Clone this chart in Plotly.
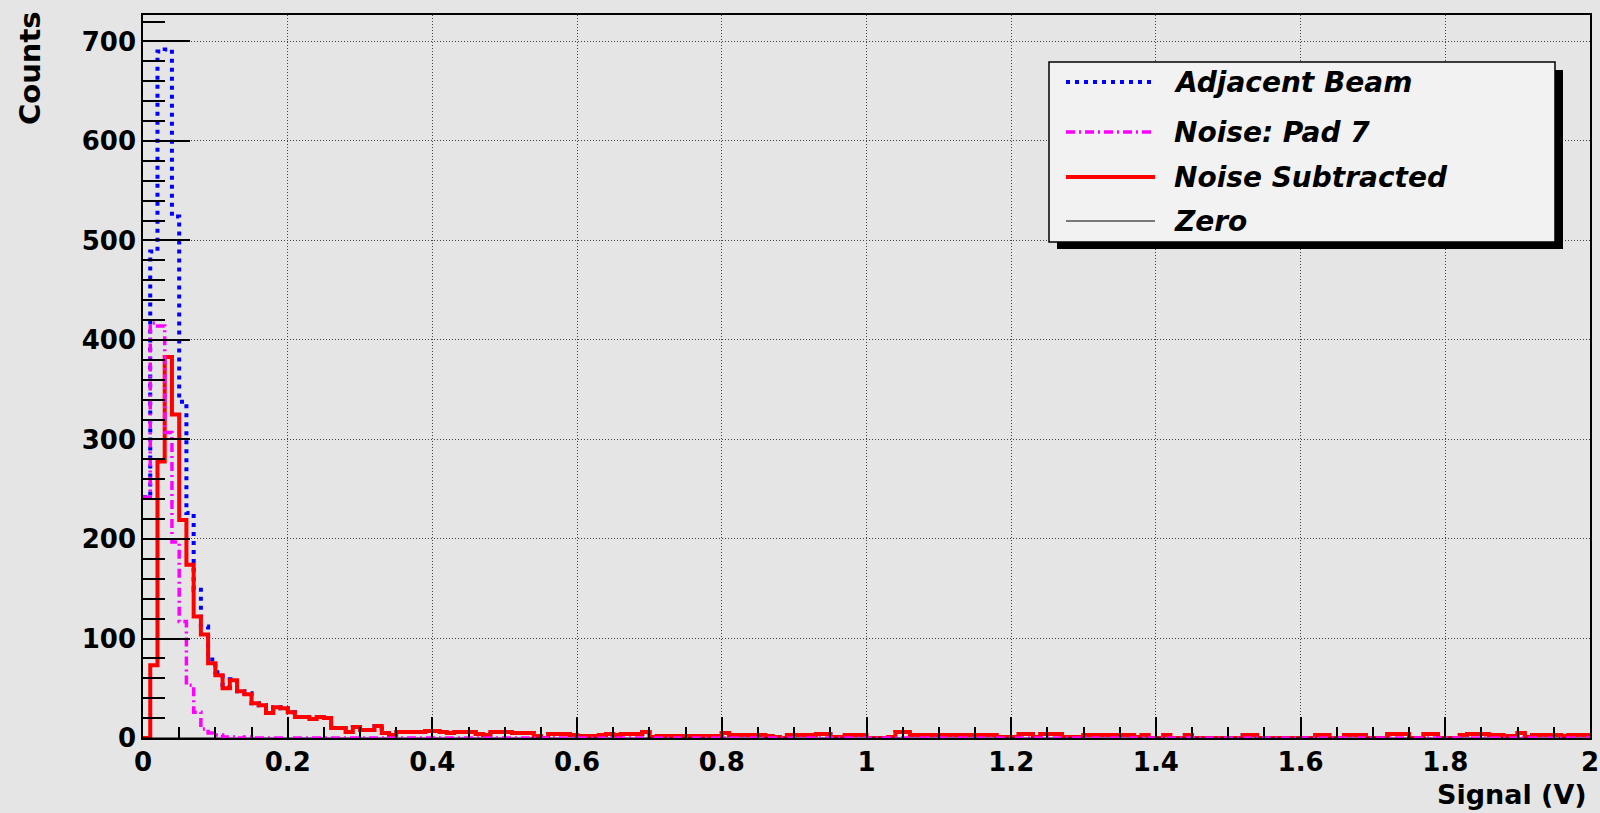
import plotly.graph_objects as go

# ---------------- data (histogram bin contents, 200 bins of 0.01 V from 0 to 2 V) ----------------
bin_low = 0.0
bin_high = 2.0
n_bins = 200

adjacent_beam = [
    242, 489, 690, 692, 524, 338, 226, 149, 112, 79,
    66, 51, 59, 47, 45, 35, 33, 25, 31, 30,
    26, 21, 21, 19, 21, 20, 10, 10, 6, 11,
    8, 8, 12, 5, 3, 6, 6, 6, 6, 7,
    7, 6, 5, 6, 6, 6, 4, 3, 6, 6,
    6, 5, 5, 5, 2, 0, 4, 4, 4, 3,
    2, 2, 2, 3, 4, 3, 4, 4, 4, 6,
    1, 2, 2, 2, 2, 2, 2, 2, 2, 2,
    5, 3, 3, 3, 3, 3, 2, 1, 0, 3,
    3, 3, 3, 4, 4, 1, 1, 3, 3, 3,
    0, 0, 0, 1, 6, 6, 3, 3, 3, 3,
    3, 3, 3, 3, 3, 3, 3, 3, 1, 1,
    1, 4, 4, 1, 4, 4, 4, 1, 1, 1,
    3, 3, 3, 3, 3, 3, 3, 1, 3, 0,
    0, 3, 0, 0, 3, 0, 0, 0, 0, 0,
    0, 0, 3, 3, 0, 0, 0, 0, 0, 0,
    0, 0, 3, 3, 0, 0, 3, 3, 3, 0,
    0, 0, 4, 4, 4, 0, 0, 4, 4, 0,
    0, 0, 3, 4, 4, 4, 3, 3, 2, 2,
    5, 1, 3, 3, 3, 3, 2, 3, 3, 3,
]

noise_pad7 = [
    242, 417, 414, 307, 197, 117, 53, 26, 9, 5,
    3, 1, 1, 0, 1, 0, 0, 0, 0, 0,
    0, 0, 0, 0, 0, 0, 0, 0, 0, 0,
    0, 0, 0, 0, 0, 0, 0, 0, 0, 0,
    0, 0, 0, 0, 0, 0, 0, 0, 0, 0,
    0, 0, 0, 0, 0, 0, 0, 0, 0, 0,
    0, 0, 0, 0, 0, 0, 0, 0, 0, 0,
    0, 0, 0, 0, 0, 0, 0, 0, 0, 0,
    0, 0, 0, 0, 0, 0, 0, 0, 0, 0,
    0, 0, 0, 0, 0, 0, 0, 0, 0, 0,
    0, 0, 0, 0, 0, 0, 0, 0, 0, 0,
    0, 0, 0, 0, 0, 0, 0, 0, 0, 0,
    0, 0, 0, 0, 0, 0, 0, 0, 0, 0,
    0, 0, 0, 0, 0, 0, 0, 0, 0, 0,
    0, 0, 0, 0, 0, 0, 0, 0, 0, 0,
    0, 0, 0, 0, 0, 0, 0, 0, 0, 0,
    0, 0, 0, 0, 0, 0, 0, 0, 0, 0,
    0, 0, 0, 0, 0, 0, 0, 0, 0, 0,
    0, 0, 0, 0, 0, 0, 0, 0, 0, 0,
    0, 0, 0, 0, 0, 0, 0, 0, 0, 0,
]

noise_subtracted = [
    0, 73, 278, 383, 325, 219, 174, 122, 104, 75,
    63, 50, 58, 47, 44, 35, 33, 25, 31, 30,
    26, 21, 21, 19, 21, 20, 10, 10, 6, 11,
    8, 8, 12, 5, 3, 6, 6, 6, 6, 7,
    7, 6, 5, 6, 6, 6, 4, 3, 6, 6,
    6, 5, 5, 5, 2, 0, 4, 4, 4, 3,
    2, 2, 2, 3, 4, 3, 4, 4, 4, 6,
    1, 2, 2, 2, 2, 2, 2, 2, 2, 2,
    5, 3, 3, 3, 3, 3, 2, 1, 0, 3,
    3, 3, 3, 4, 4, 1, 1, 3, 3, 3,
    0, 0, 0, 1, 6, 6, 3, 3, 3, 3,
    3, 3, 3, 3, 3, 3, 3, 3, 1, 1,
    1, 4, 4, 1, 4, 4, 4, 1, 1, 1,
    3, 3, 3, 3, 3, 3, 3, 1, 3, 0,
    0, 3, 0, 0, 3, 0, 0, 0, 0, 0,
    0, 0, 3, 3, 0, 0, 0, 0, 0, 0,
    0, 0, 3, 3, 0, 0, 3, 3, 3, 0,
    0, 0, 4, 4, 4, 0, 0, 4, 4, 0,
    0, 0, 3, 4, 4, 4, 3, 3, 2, 2,
    5, 1, 3, 3, 3, 3, 2, 3, 3, 3,
]

zero_level = [0, 0]

x_tick_vals = [0, 0.2, 0.4, 0.6, 0.8, 1.0, 1.2, 1.4, 1.6, 1.8, 2.0]
x_tick_text = ["0", "0.2", "0.4", "0.6", "0.8", "1", "1.2", "1.4", "1.6", "1.8", "2"]
y_tick_vals = [0, 100, 200, 300, 400, 500, 600, 700]
y_tick_text = ["0", "100", "200", "300", "400", "500", "600", "700"]

series_names = ["Adjacent Beam", "Noise: Pad 7", "Noise Subtracted", "Zero"]

# ---------------- figure ----------------
W, H = 1600, 813
ML, MR, MT, MB = 143, 10, 15, 75
PW, PH = W - ML - MR, H - MT - MB

bin_w = (bin_high - bin_low) / n_bins
edges = [bin_low + i * bin_w for i in range(n_bins + 1)]


def step_y(vals):
    return list(vals) + [vals[-1]]


def px(x):
    return (x - ML) / PW


def py(y):
    return (H - MB - y) / PH


FONT = "DejaVu Sans"
BLUE_DASH = "4px,5px"
MAG_DASH = "9px,4px,2px,4px"

fig = go.Figure()
fig.add_trace(go.Scatter(x=edges, y=step_y(adjacent_beam), mode="lines", line_shape="hv",
                         name=series_names[0],
                         line=dict(color="#0000ff", width=4, dash=BLUE_DASH)))
fig.add_trace(go.Scatter(x=edges, y=step_y(noise_subtracted), mode="lines", line_shape="hv",
                         name=series_names[2],
                         line=dict(color="#ff0000", width=4)))
fig.add_trace(go.Scatter(x=[bin_low, bin_high], y=zero_level, mode="lines",
                         name=series_names[3],
                         line=dict(color="black", width=1)))
fig.add_trace(go.Scatter(x=edges, y=step_y(noise_pad7), mode="lines", line_shape="hv",
                         name=series_names[1],
                         line=dict(color="#ff00ff", width=3.5, dash=MAG_DASH)))

y_max = 1.05 * max(adjacent_beam)

axis_common = dict(
    showline=True, linecolor="black", linewidth=1.5, mirror=True,
    ticks="inside", tickcolor="black", tickwidth=1.5,
    showgrid=True, gridcolor="#444444", griddash="1px,2px", gridwidth=1,
    zeroline=False, automargin=False,
    tickfont=dict(family=FONT, size=26, color="black", weight="bold"),
)

fig.update_layout(
    width=W, height=H,
    margin=dict(l=ML, r=MR, t=MT, b=MB, autoexpand=False),
    paper_bgcolor="#e5e5e5", plot_bgcolor="#e5e5e5",
    showlegend=False,
    xaxis=dict(range=[bin_low, bin_high], tickvals=x_tick_vals, ticktext=x_tick_text,
               ticklen=21,
               minor=dict(dtick=0.05, tick0=0, ticks="inside", ticklen=11,
                          tickcolor="black", tickwidth=1.5, showgrid=False),
               **axis_common),
    yaxis=dict(range=[0, y_max], tickvals=y_tick_vals, ticktext=y_tick_text,
               ticklen=47,
               minor=dict(dtick=20, tick0=0, ticks="inside", ticklen=22,
                          tickcolor="black", tickwidth=1.5, showgrid=False),
               **axis_common),
)

# ---------------- legend (drawn by hand, ROOT style with shadow) ----------------
shapes = [
    dict(type="rect", xref="paper", yref="paper", x0=px(1057), x1=px(1563), y0=py(249), y1=py(70),
         fillcolor="black", line=dict(width=0), layer="above"),
    dict(type="rect", xref="paper", yref="paper", x0=px(1049), x1=px(1555), y0=py(242), y1=py(62),
         fillcolor="#f2f2f2", line=dict(color="black", width=1.5), layer="above"),
]
leg_rows = [82, 132, 177, 221]
leg_styles = [
    dict(color="#0000ff", width=4, dash=BLUE_DASH),
    dict(color="#ff00ff", width=3.5, dash=MAG_DASH),
    dict(color="#ff0000", width=4),
    dict(color="black", width=1),
]
annotations = []
for name, yrow, st in zip(series_names, leg_rows, leg_styles):
    shapes.append(dict(type="line", xref="paper", yref="paper", x0=px(1066), x1=px(1155),
                       y0=py(yrow), y1=py(yrow), line=st, layer="above"))
    annotations.append(dict(xref="paper", yref="paper", x=px(1172), y=py(yrow),
                            xanchor="left", yanchor="middle", showarrow=False, text=name,
                            font=dict(family=FONT, size=28, color="black", weight="bold", style="italic")))

annotations.append(dict(xref="paper", yref="paper", x=px(1589), y=py(794), xanchor="right",
                        yanchor="middle", showarrow=False, text="Signal (V)",
                        font=dict(family=FONT, size=27, color="black", weight="bold")))
annotations.append(dict(xref="paper", yref="paper", x=px(30), y=py(68), xanchor="center",
                        yanchor="middle", showarrow=False, text="Counts", textangle=-90,
                        font=dict(family=FONT, size=29, color="black", weight="bold")))

fig.update_layout(shapes=shapes, annotations=annotations)

fig.write_html("out.html", config={"displayModeBar": False},
               post_script="document.body.style.margin='0';document.body.style.overflow='hidden';")
